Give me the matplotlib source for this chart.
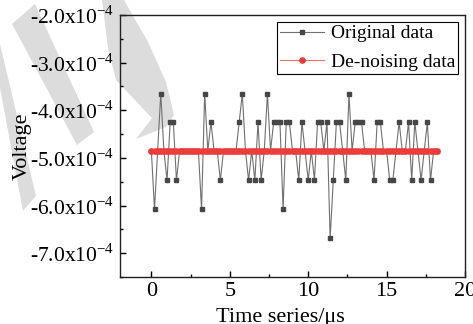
import matplotlib
matplotlib.use('Agg')
import matplotlib.pyplot as plt
from matplotlib.patches import Polygon
from matplotlib.ticker import MultipleLocator, FuncFormatter

plt.rcParams['font.family'] = 'Liberation Serif'
plt.rcParams['mathtext.fontset'] = 'custom'
plt.rcParams['mathtext.rm'] = 'Liberation Serif'

# Data (time in us, voltage in units of 1e-4 V)
time_us = [0.0, 0.2, 0.4, 0.6, 0.8, 1.0, 1.2, 1.4, 1.6, 1.8,
           2.0, 2.2, 2.4, 2.6, 2.8, 3.0, 3.2, 3.4, 3.6, 3.8,
           4.0, 4.2, 4.4, 4.6, 4.8, 5.0, 5.2, 5.4, 5.6, 5.8,
           6.0, 6.2, 6.4, 6.6, 6.8, 7.0, 7.2, 7.4, 7.6, 7.8,
           8.0, 8.2, 8.4, 8.6, 8.8, 9.0, 9.2, 9.4, 9.6, 9.8,
           10.0, 10.2, 10.4, 10.6, 10.8, 11.0, 11.2, 11.4, 11.6, 11.8,
           12.0, 12.2, 12.4, 12.6, 12.8, 13.0, 13.2, 13.4, 13.6, 13.8,
           14.0, 14.2, 14.4, 14.6, 14.8, 15.0, 15.2, 15.4, 15.6, 15.8,
           16.0, 16.2, 16.4, 16.6, 16.8, 17.0, 17.2, 17.4, 17.6, 17.8,
           18.0, 18.2]

original = [-4.85, -6.08, -4.85, -3.65, -4.85, -5.47, -4.25, -4.25, -5.47, -4.85,
            -4.85, -4.85, -4.85, -4.85, -4.85, -4.85, -6.08, -3.65, -4.85, -4.25,
            -4.85, -4.85, -5.47, -4.85, -4.85, -4.85, -4.85, -4.85, -4.25, -3.65,
            -4.85, -5.47, -4.85, -5.47, -4.25, -5.47, -4.85, -3.65, -4.85, -4.25,
            -4.25, -4.25, -6.08, -4.25, -4.25, -4.85, -4.85, -5.47, -4.25, -4.85,
            -5.47, -4.85, -5.47, -4.25, -4.25, -4.85, -4.25, -6.69, -5.47, -4.25,
            -4.25, -4.85, -5.47, -3.65, -4.85, -4.25, -4.25, -4.25, -4.85, -4.85,
            -4.85, -5.47, -4.25, -4.25, -4.85, -4.85, -5.47, -5.47, -4.85, -4.25,
            -4.85, -4.85, -4.25, -5.47, -4.25, -4.85, -5.47, -4.85, -4.25, -5.47,
            -4.85, -4.85]

denoised = [-4.85, -4.85, -4.85, -4.85, -4.85, -4.85, -4.85, -4.85, -4.85, -4.85,
            -4.85, -4.85, -4.85, -4.85, -4.85, -4.85, -4.85, -4.85, -4.85, -4.85,
            -4.85, -4.85, -4.85, -4.85, -4.85, -4.85, -4.85, -4.85, -4.85, -4.85,
            -4.85, -4.85, -4.85, -4.85, -4.85, -4.85, -4.85, -4.85, -4.85, -4.85,
            -4.85, -4.85, -4.85, -4.85, -4.85, -4.85, -4.85, -4.85, -4.85, -4.85,
            -4.85, -4.85, -4.85, -4.85, -4.85, -4.85, -4.85, -4.85, -4.85, -4.85,
            -4.85, -4.85, -4.85, -4.85, -4.85, -4.85, -4.85, -4.85, -4.85, -4.85,
            -4.85, -4.85, -4.85, -4.85, -4.85, -4.85, -4.85, -4.85, -4.85, -4.85,
            -4.85, -4.85, -4.85, -4.85, -4.85, -4.85, -4.85, -4.85, -4.85, -4.85,
            -4.85, -4.85]

scale = 1e-4
W, H = 473, 324

fig = plt.figure(figsize=(W / 100, H / 100), dpi=100)
ax = fig.add_axes([120 / W, 1 - 277 / H, 345 / W, 262 / H])
ax.patch.set_alpha(0)

# light grey watermark strokes behind everything
def px(pts):
    return [(x / W, 1 - y / H) for x, y in pts]

marks = [
    [(12, 24), (35, 4), (94, 132), (77, 145)],
    [(0, 44), (0, 88), (23, 211), (36, 196)],
    [(102, 0), (124, 0), (148, 42), (166, 82), (174, 115), (166, 127), (136, 139),
     (152, 118), (116, 80), (108, 48)],
]
for m in marks:
    fig.patches.append(Polygon(px(m), closed=True, transform=fig.transFigure,
                               facecolor='#dcdcdc', edgecolor='none', zorder=-5))

ax.plot(time_us, [v * scale for v in original], color='#707070', lw=0.8,
        marker='s', ms=3, mfc='#474747', mec='#474747', label='Original data', zorder=2)
ax.plot(time_us, [v * scale for v in denoised], color='#ff6a6a', lw=0.8,
        marker='o', ms=3.8, mfc='#ee3b3b', mec='#ee3b3b', label='De-noising data', zorder=3)

ax.set_xlim(-2, 20)
ax.set_ylim(-7.5e-4, -2.0e-4)
ax.xaxis.set_major_locator(MultipleLocator(5))
ax.xaxis.set_minor_locator(MultipleLocator(2.5))
ax.yaxis.set_major_locator(MultipleLocator(1e-4))
ax.yaxis.set_minor_locator(MultipleLocator(0.5e-4))
ax.yaxis.set_major_formatter(FuncFormatter(lambda v, p: '%.1fx10$^{-4}$' % (v / scale)))

ax.tick_params(which='both', direction='in', top=False, right=False)
ax.tick_params(axis='x', labelsize=16)
ax.tick_params(axis='y', labelsize=15.5, pad=4)
ax.tick_params(which='major', length=4, width=1)
ax.tick_params(which='minor', length=2.5, width=1)
for s in ax.spines.values():
    s.set_linewidth(1.0)
    s.set_color('#222222')

ax.set_xlabel('Time series/μs', fontsize=16)
ax.xaxis.set_label_coords((280 - 120) / 345, -0.12)
ax.set_ylabel('Voltage', fontsize=16)
ax.yaxis.set_label_coords((32 - 120) / 345, 0.5)

leg = ax.legend(loc='upper right', fontsize=14, fancybox=False, framealpha=1,
                edgecolor='black', borderaxespad=0.35, handlelength=2.25,
                borderpad=0.15, labelspacing=0.55, handletextpad=0.35)
leg.get_frame().set_linewidth(0.8)

fig.savefig('out.png', dpi=100)
